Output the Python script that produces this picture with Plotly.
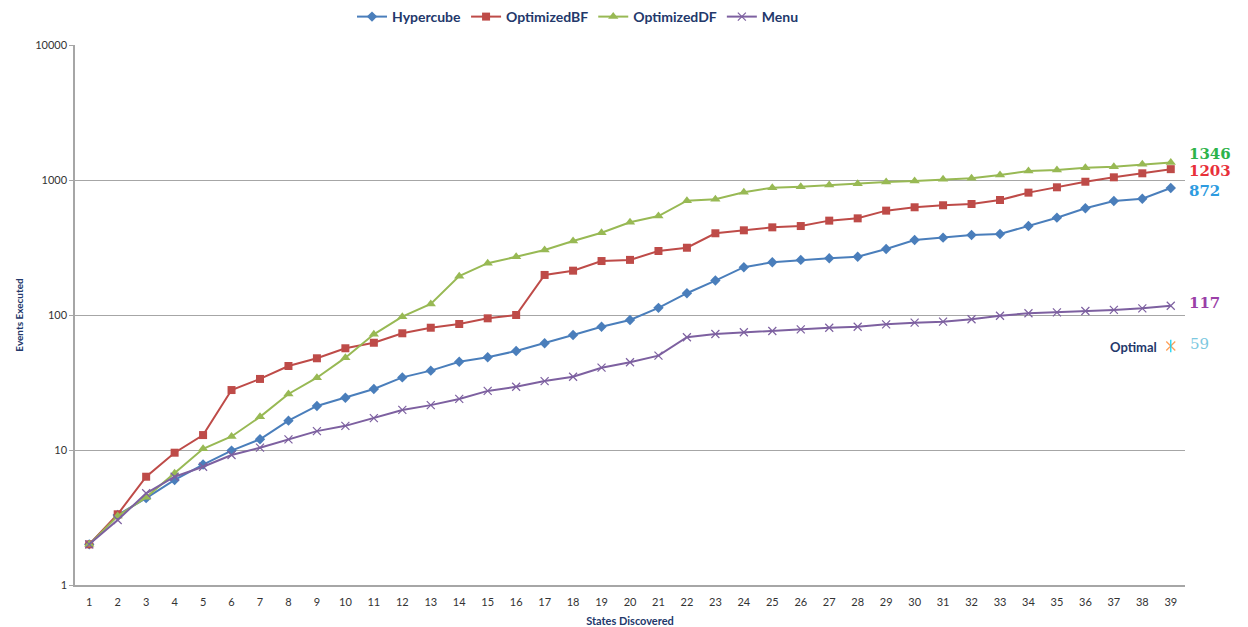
import math
import plotly.graph_objects as go

# States discovered (x categories)
states = list(range(1, 40))

# Events executed per exploration strategy
hypercube = [2, 3.3, 4.4, 6.0, 7.8, 9.9, 12.0, 16.5, 21.2, 24.4,
             28.3, 34.5, 38.7, 45.1, 48.6, 54.1, 61.7, 71.1, 81.9, 91.8,
             113, 145, 180, 226, 246, 256, 263, 270, 308, 359,
             374, 391, 398, 456, 526, 617, 699, 727, 872]
optimized_bf = [2, 3.34, 6.34, 9.55, 12.9, 27.8, 33.6, 41.9, 47.8, 56.7,
                62.3, 73.2, 80.5, 85.8, 94.5, 100, 198, 213, 251, 256,
                298, 315, 403, 424, 446, 456, 500, 520, 593, 628,
                650, 664, 711, 806, 883, 971, 1047, 1121, 1203]
optimized_df = [2, 3.24, 4.46, 6.72, 10.2, 12.6, 17.6, 26.0, 34.3, 48.3,
                71.9, 97.2, 120.6, 194, 242, 270, 303, 353, 407, 486,
                541, 703, 719, 811, 877, 892, 918, 939, 967, 983,
                1012, 1030, 1089, 1166, 1186, 1233, 1256, 1307, 1346]
menu = [2, 3.03, 4.78, 6.34, 7.52, 9.18, 10.4, 12.0, 13.8, 15.1,
        17.2, 19.8, 21.5, 23.9, 27.4, 29.4, 32.4, 34.9, 40.7, 44.7,
        50.0, 68.4, 72.3, 74.5, 76.1, 78.3, 80.5, 81.9, 85.3, 87.7,
        89.2, 93, 98.8, 103, 104.7, 107, 109, 112, 117]

optimal_state = 39
optimal_events = 59

y_ticks = [1, 10, 100, 1000, 10000]

NAVY = "#23386B"
FONT = "Lato"

series = [
    ("Hypercube", hypercube, "#4A7EBB", dict(symbol="diamond", size=8), "#2E9BE0", -3),
    ("OptimizedBF", optimized_bf, "#BE4B48", dict(symbol="square", size=8), "#E8303A", -2),
    ("OptimizedDF", optimized_df, "#98B954", dict(symbol="triangle-up", size=9), "#2DB34A", 9),
    ("Menu", menu, "#7D60A0", dict(symbol="x-thin-open", size=8, line=dict(width=1.2, color="#7D60A0")), "#9B3FA8", 3),
]

fig = go.Figure()
for name, vals, color, marker, _, _ in series:
    fig.add_trace(go.Scatter(
        x=states, y=vals, name=name, mode="lines+markers",
        line=dict(color=color, width=2),
        marker=dict(color=color, **marker),
    ))

# Optimal point: star-like marker built from an x and a vertical bar
for sym in ("x-thin-open", "line-ns-open"):
    fig.add_trace(go.Scatter(
        x=[optimal_state], y=[optimal_events], mode="markers", showlegend=False,
        marker=dict(symbol=sym, size=9, line=dict(width=1.3, color="#4BACC6")),
        hoverinfo="skip",
    ))

annotations = []
for name, vals, color, _, label_color, shift in series:
    annotations.append(dict(
        x=states[-1], y=math.log10(vals[-1]), xref="x", yref="y",
        text=f"<b>{vals[-1]:g}</b>", showarrow=False, xanchor="left",
        xshift=16, yshift=shift,
        font=dict(family="DejaVu Serif", size=15, color=label_color),
    ))
annotations.append(dict(
    x=optimal_state, y=math.log10(optimal_events), xref="x", yref="y",
    text=f"{optimal_events}", showarrow=False, xanchor="left", xshift=17, yshift=2,
    font=dict(family="DejaVu Serif", size=15, color="#7CC8E0"),
))
annotations.append(dict(
    x=optimal_state, y=math.log10(optimal_events), xref="x", yref="y",
    text="<b>Optimal</b>", showarrow=False, xanchor="right", xshift=-12, yshift=-1,
    font=dict(family=FONT, size=13, color=NAVY),
))

fig.update_layout(
    width=1248, height=627,
    margin=dict(l=75, r=63, t=45, b=42, autoexpand=False),
    paper_bgcolor="white", plot_bgcolor="white",
    font=dict(family=FONT, color="#333333"),
    showlegend=True,
    legend=dict(
        orientation="h", xref="container", x=352 / 1248, xanchor="left",
        yref="container", y=1 - 17 / 627, yanchor="middle",
        font=dict(family=FONT, size=14, color=NAVY, weight="bold"),
        bgcolor="rgba(0,0,0,0)", itemwidth=30, entrywidthmode="pixels",
    ),
    annotations=annotations,
    xaxis=dict(
        range=[0.5, 39.5], tickmode="array", tickvals=states,
        ticktext=[str(s) for s in states], ticks="outside", ticklen=6,
        tickcolor="rgba(0,0,0,0)",
        showgrid=False, zeroline=False,
        showline=True, linecolor="#A6A6A6", linewidth=1.5,
        tickfont=dict(size=11, color="#333333"),
        title=dict(text="<b>States Discovered</b>", standoff=10,
                   font=dict(size=11, color=NAVY)),
    ),
    yaxis=dict(
        type="log", range=[0, 4], tickmode="array", tickvals=y_ticks,
        ticktext=[str(v) for v in y_ticks],
        ticks="outside", ticklen=4, tickcolor="#A6A6A6",
        showgrid=True, gridcolor="#A6A6A6", gridwidth=1,
        showline=True, linecolor="#A6A6A6", linewidth=1.5,
        tickfont=dict(size=11, color="#333333"),
        title=dict(text="<b>Events Executed</b>", standoff=10,
                   font=dict(size=10, color=NAVY)),
    ),
)

fig.write_html("out.html")
